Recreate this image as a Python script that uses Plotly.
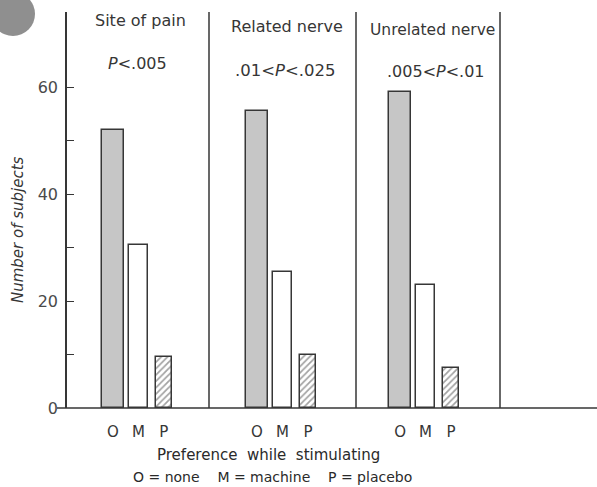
import plotly.graph_objects as go

# ---- data ----
categories = ["O", "M", "P"]
site_of_pain = [52, 30.5, 9.5]
related_nerve = [55.5, 25.5, 10]
unrelated_nerve = [59, 23, 7.5]
panel_titles = ["Site of pain", "Related nerve", "Unrelated nerve"]
panel_pvalues = ["<i>P</i>&lt;.005", ".01&lt;<i>P</i>&lt;.025", ".005&lt;<i>P</i>&lt;.01"]
y_tick_values = [0, 10, 20, 30, 40, 50, 60]
y_tick_labels = ["0", "", "20", "", "40", "", "60"]

W, H = 597, 487
ML, MR, MT, MB = 67, 0, 12, 79
PW, PH = W - ML - MR, H - MT - MB

def px(x):
    return (x - ML) / PW

def py(y):
    return (H - MB - y) / PH

INK = "#363636"
FONT = "DejaVu Sans"

fig = go.Figure()

panels = [site_of_pain, related_nerve, unrelated_nerve]
edges = [67, 209, 356, 500]
ranges = [[-1.8, 3.77], [-1.88, 3.88], [-1.73, 3.92]]

fills = ["#c6c6c6", "white", "white"]
patterns = ["", "", "/"]
widths = [0.84, 0.74, 0.64]

for i, vals in enumerate(panels):
    suffix = "" if i == 0 else str(i + 1)
    fig.add_trace(go.Bar(
        x=categories, y=vals,
        xaxis="x" + suffix, yaxis="y",
        width=widths,
        marker=dict(
            color=fills,
            line=dict(color=INK, width=1.5),
            pattern=dict(shape=patterns, fgcolor="#3c3c3c", bgcolor="white",
                         size=4.5, solidity=0.38),
        ),
        showlegend=False,
    ))
    fig.layout["xaxis" + suffix] = dict(
        domain=[px(edges[i]), px(edges[i + 1])],
        type="category",
        categoryorder="array", categoryarray=categories,
        range=ranges[i],
        showline=False, showgrid=False, zeroline=False,
        ticks="", ticklabelstandoff=13,
        tickfont=dict(family=FONT, size=15, color=INK),
        anchor="y", fixedrange=True,
    )

fig.update_layout(
    width=W, height=H,
    margin=dict(l=ML, r=MR, t=MT, b=MB, pad=0),
    paper_bgcolor="white", plot_bgcolor="white",
    bargap=0,
    yaxis=dict(
        range=[0, PH / 5.35],
        tickvals=y_tick_values, ticktext=y_tick_labels,
        ticks="inside", ticklen=7, tickwidth=1.3, tickcolor=INK,
        showline=True, linecolor=INK, linewidth=1.5,
        showgrid=False, zeroline=False,
        tickfont=dict(family=FONT, size=16, color="#4a4a4a"),
        ticklabelstandoff=4,
        anchor="x", fixedrange=True,
    ),
)

shapes = []
# panel dividers
for xe in edges[1:]:
    shapes.append(dict(type="line", xref="paper", yref="paper",
                       x0=px(xe), x1=px(xe), y0=0, y1=py(12),
                       line=dict(color=INK, width=1.5)))
# baseline across the whole width
shapes.append(dict(type="line", xref="paper", yref="paper",
                   x0=px(57), x1=px(597), y0=0, y1=0,
                   line=dict(color=INK, width=1.5)))
# grey scan mark at top left
shapes.append(dict(type="circle", xref="paper", yref="paper",
                   x0=px(-9), x1=px(35), y0=py(-8), y1=py(36),
                   fillcolor="#8f8f8f", line=dict(width=0)))
fig.update_layout(shapes=shapes)

ann = []
title_pos = [(140, 20), (287, 26), (432, 30)]
title_size = [16, 16, 15.5]
p_pos = [(137, 63), (285, 70), (436, 71)]
p_text_size = [16, 16.5, 16]
for i in range(3):
    ann.append(dict(text=panel_titles[i], xref="paper", yref="paper",
                    x=px(title_pos[i][0]), y=py(title_pos[i][1]),
                    xanchor="center", yanchor="middle", showarrow=False,
                    font=dict(family=FONT, size=title_size[i], color=INK)))
    ann.append(dict(text=panel_pvalues[i], xref="paper", yref="paper",
                    x=px(p_pos[i][0]), y=py(p_pos[i][1]),
                    xanchor="center", yanchor="middle", showarrow=False,
                    font=dict(family=FONT, size=p_text_size[i], color=INK)))

ann.append(dict(text="Number of subjects", xref="paper", yref="paper",
                x=px(18), y=py(230), textangle=-90,
                xanchor="center", yanchor="middle", showarrow=False,
                font=dict(family=FONT, size=15, color=INK, style="italic")))
ann.append(dict(text="Preference  while  stimulating", xref="paper", yref="paper",
                x=px(268), y=py(455),
                xanchor="center", yanchor="middle", showarrow=False,
                font=dict(family=FONT, size=15, color="#2a2a2a")))
ann.append(dict(text="O = none    M = machine    P = placebo", xref="paper", yref="paper",
                x=px(272), y=py(477),
                xanchor="center", yanchor="middle", showarrow=False,
                font=dict(family=FONT, size=14, color="#2a2a2a")))
fig.update_layout(annotations=ann)

fig.write_html("out.html", config={"displayModeBar": False},
               post_script="document.body.style.margin='0';")
